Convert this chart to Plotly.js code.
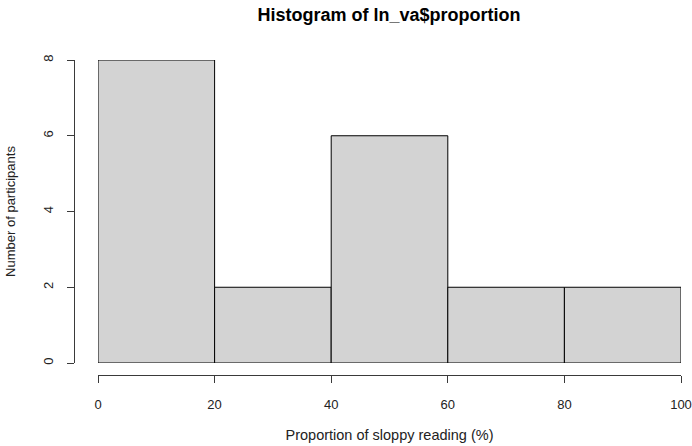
<!DOCTYPE html>
<html>
<head>
<meta charset="utf-8">
<script src="https://cdn.plot.ly/plotly-3.0.1.min.js"></script>
<style>html,body{margin:0;padding:0;background:#fff;}#chart{width:692px;height:446px;}</style>
</head>
<body>
<div id="chart"></div>
<script>
// Data
const binEdges = [0, 20, 40, 60, 80, 100];
const counts = [8, 2, 6, 2, 2];
const xTicks = [0, 20, 40, 60, 80, 100];
const yTicks = [0, 2, 4, 6, 8];

const centers = counts.map((_, i) => (binEdges[i] + binEdges[i + 1]) / 2);
const widths = counts.map((_, i) => binEdges[i + 1] - binEdges[i]);

const font = 'Liberation Sans, Arial, sans-serif';
const axisColor = '#3a3a3a';

const trace = {
  type: 'bar',
  x: centers,
  y: counts,
  width: widths,
  marker: {color: '#d3d3d3', line: {color: '#000000', width: 1}},
  hoverinfo: 'skip'
};

const layout = {
  width: 692, height: 446,
  margin: {l: 74, r: 11, t: 60, b: 71, autoexpand: false},
  paper_bgcolor: '#ffffff', plot_bgcolor: '#ffffff',
  showlegend: false,
  bargap: 0,
  font: {family: font, size: 13, color: '#222'},
  title: {
    text: '<b>Histogram of ln_va$proportion</b>',
    font: {family: font, size: 18, color: '#000'},
    xref: 'container', x: 389 / 692, xanchor: 'center',
    yref: 'container', y: 1 - 15 / 446, yanchor: 'middle'
  },
  xaxis: {
    domain: [24 / 607, 1],
    range: [0, 100],
    anchor: 'free', position: 0,
    showline: true, linecolor: axisColor, linewidth: 1,
    ticks: 'outside', ticklen: 7, tickcolor: axisColor, tickwidth: 1,
    tickvals: xTicks, ticktext: xTicks.map(String),
    ticklabelstandoff: 10,
    tickfont: {family: font, size: 13, color: '#222'},
    showgrid: false, zeroline: false, automargin: false,
    title: {text: 'Proportion of sloppy reading (%)', font: {family: font, size: 14.5, color: '#222'}, standoff: 19}
  },
  yaxis: {
    domain: [12 / 315, 1],
    range: [0, 8],
    anchor: 'free', position: 0,
    showline: true, linecolor: axisColor, linewidth: 1,
    ticks: 'outside', ticklen: 7, tickcolor: axisColor, tickwidth: 1,
    tickvals: yTicks, ticktext: yTicks.map(String),
    tickangle: -90,
    ticklabelstandoff: 9,
    tickfont: {family: font, size: 13, color: '#222'},
    showgrid: false, zeroline: false, automargin: false,
    title: {text: 'Number of participants', font: {family: font, size: 13, color: '#222'}, standoff: 21}
  }
};

Plotly.newPlot('chart', [trace], layout, {staticPlot: true, displayModeBar: false});
</script>
</body>
</html>
